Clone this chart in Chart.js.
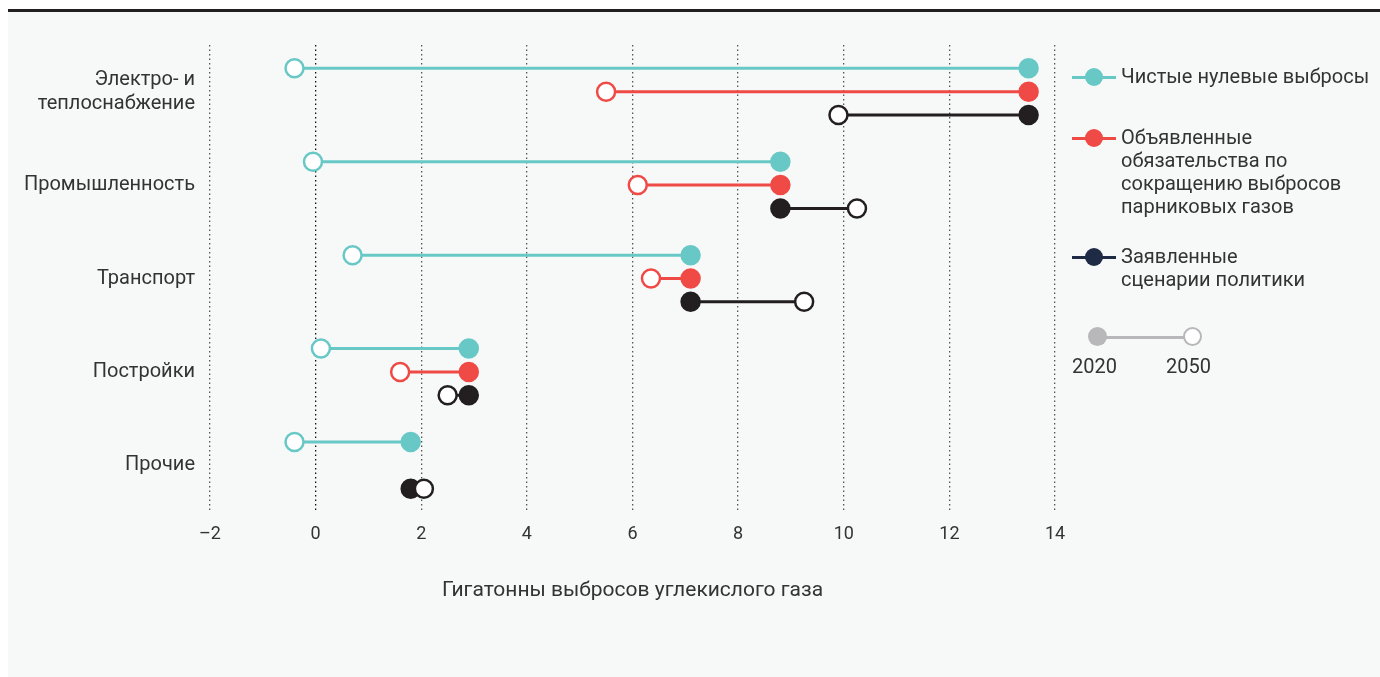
<!DOCTYPE html>
<html>
<head>
<meta charset="utf-8">
<script src="https://cdn.jsdelivr.net/npm/chart.js@4"></script>
<style>
  body { margin: 0; background: #fff; font-family: Roboto, sans-serif; color: #333; }
  #topline { position: absolute; left: 8px; top: 9px; width: 1372px; height: 3px; background: #231f20; }
  #panel { position: absolute; left: 8px; top: 12px; width: 1372px; height: 665px; background: #f7f9f9; }
  #myChart { position: absolute; left: 0; top: 0; }
  .leg { position: absolute; font-size: 20px; line-height: 23px; color: #333; white-space: nowrap; }
  .mark { position: absolute; height: 3px; }
  .dot { position: absolute; border-radius: 50%; box-sizing: border-box; }
</style>
</head>
<body>
<div id="topline"></div>
<div id="panel"></div>
<canvas id="myChart" width="1380" height="677"></canvas>
<div id="legend"></div>
<script>
var sectors = [["Электро- и", "теплоснабжение"], "Промышленность", "Транспорт", "Постройки", "Прочие"];
var seriesNames = ["Чистые нулевые выбросы",
  "Объявленные<br>обязательства по<br>сокращению выбросов<br>парниковых газов",
  "Заявленные<br>сценарии политики"];
var seriesColors = ["#68c8c6", "#ef4a45", "#231f20"];
var legendColors = ["#68c8c6", "#ef4a45", "#1f2a44"];
var xTicks = [-2, 0, 2, 4, 6, 8, 10, 12, 14];

// 2020 and 2050 values per series, one value per sector
var netZero2020 = [13.5, 8.8, 7.1, 2.9, 1.8];
var netZero2050 = [-0.4, -0.05, 0.7, 0.1, -0.4];
var pledges2020 = [13.5, 8.8, 7.1, 2.9, null];
var pledges2050 = [5.5, 6.1, 6.35, 1.6, null];
var stated2020 = [13.5, 8.8, 7.1, 2.9, 1.8];
var stated2050 = [9.9, 10.25, 9.25, 2.5, 2.05];

var from = [netZero2020, pledges2020, stated2020];
var to = [netZero2050, pledges2050, stated2050];

var datasets = [];
for (var s = 0; s < 3; s++) {
  for (var g = 0; g < sectors.length; g++) {
    if (from[s][g] == null) continue;
    var pos = g * 4 + s;
    datasets.push({
      label: seriesNames[s],
      data: [{x: from[s][g], y: pos}, {x: to[s][g], y: pos}],
      showLine: true,
      borderColor: seriesColors[s],
      borderWidth: 3,
      pointRadius: 9,
      pointHoverRadius: 9,
      pointBorderWidth: 2.5,
      pointBackgroundColor: [seriesColors[s], "#fff"],
      pointBorderColor: seriesColors[s]
    });
  }
}

var ctx = document.getElementById("myChart");
var myChart = new Chart(ctx, {
  type: 'scatter',
  data: { datasets: datasets },
  options: {
    responsive: false,
    animation: false,
    layout: { padding: { left: 0, right: 325, top: 45, bottom: 74 } },
    plugins: { legend: { display: false }, tooltip: { enabled: false } },
    scales: {
      x: {
        min: -2, max: 14,
        afterBuildTicks: function(scale) { scale.ticks = xTicks.map(function(v) { return {value: v}; }); },
        afterFit: function(scale) { scale.height = 91; },
        border: { display: false, dash: [1.5, 3] },
        grid: {
          drawTicks: false,
          color: function(c) { return c.tick && c.tick.value === 0 ? "#111" : "#555"; },
          lineWidth: 1.3
        },
        ticks: {
          padding: 12,
          color: "#333",
          font: { family: "Roboto", size: 18 },
          callback: function(v) { return v < 0 ? "\u2013" + Math.abs(v) : String(v); }
        },
        title: {
          display: true,
          text: "Гигатонны выбросов углекислого газа",
          color: "#333",
          font: { family: "Roboto", size: 21 },
          padding: { top: 0, bottom: 0 }
        }
      },
      y: {
        min: -1, max: 19, reverse: true,
        afterBuildTicks: function(scale) { scale.ticks = sectors.map(function(n, i) { return {value: i * 4 + 1}; }); },
        afterFit: function(scale) { scale.width = 210; },
        border: { display: false },
        grid: { display: false, drawTicks: false },
        ticks: {
          padding: 15,
          color: "#333",
          font: { family: "Roboto", size: 20 },
          callback: function(v) { return sectors[(v - 1) / 4]; }
        }
      }
    }
  }
});

// legend on the right
var leg = document.getElementById("legend");
var ys = [77, 138, 257];
var html = "";
for (var i = 0; i < 3; i++) {
  html += '<div class="mark" style="left:1072px;top:' + (ys[i] - 1.5) + 'px;width:44px;background:' + legendColors[i] + '"></div>';
  html += '<div class="dot" style="left:1085px;top:' + (ys[i] - 9) + 'px;width:18px;height:18px;background:' + legendColors[i] + '"></div>';
  html += '<div class="leg" style="left:1121px;top:' + (ys[i] - 12) + 'px">' + seriesNames[i] + '</div>';
}
html += '<div class="mark" style="left:1097px;top:336px;width:95px;background:#b8b8bb"></div>';
html += '<div class="dot" style="left:1088px;top:327px;width:19px;height:19px;background:#b8b8bb"></div>';
html += '<div class="dot" style="left:1183px;top:327px;width:19px;height:19px;background:#fff;border:2.5px solid #b8b8bb"></div>';
html += '<div class="leg" style="left:1072px;top:355px">2020</div>';
html += '<div class="leg" style="left:1166px;top:355px">2050</div>';
leg.innerHTML = html;
</script>
</body>
</html>
